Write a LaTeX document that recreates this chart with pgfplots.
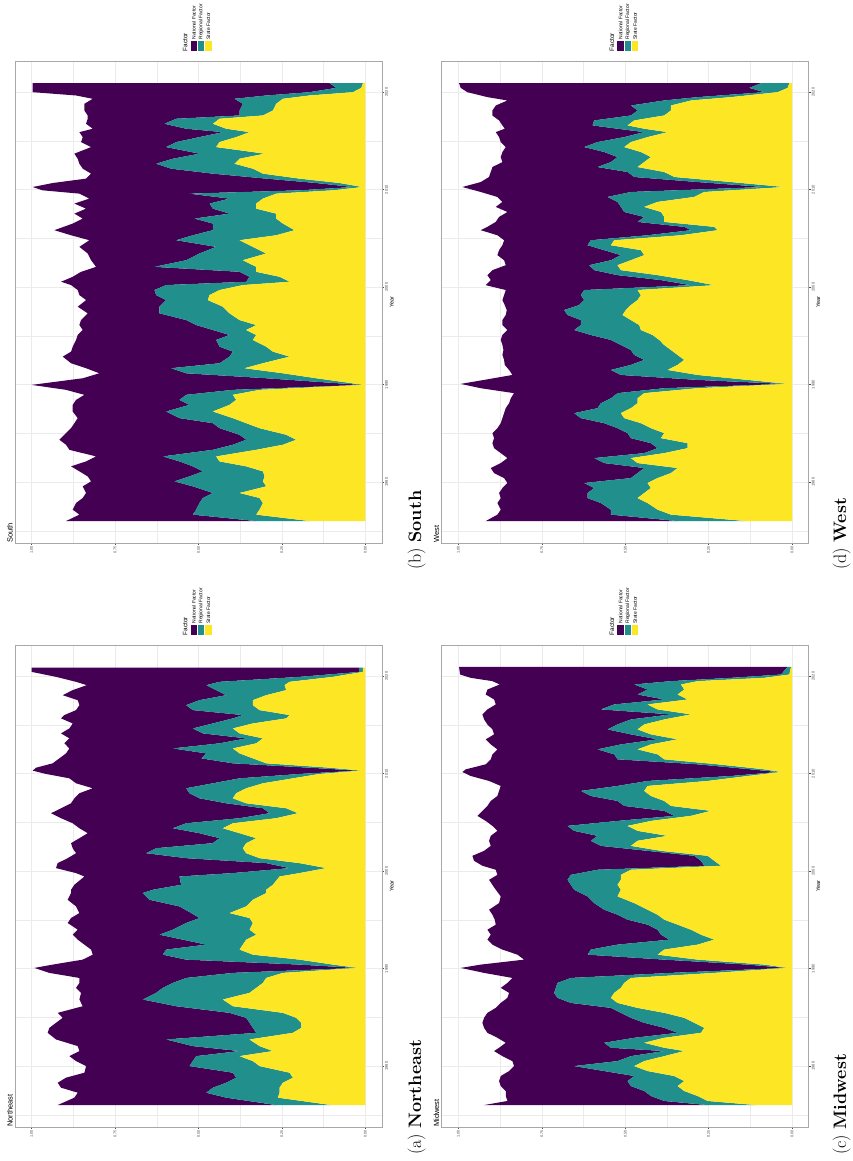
\documentclass[border=0pt]{standalone}
\usepackage{fontspec}
\usepackage{pgfplots}
\usepackage{pgfplotstable}
\pgfplotsset{compat=1.18}
\newfontfamily\sans{Liberation Sans}

\definecolor{natc}{HTML}{440154}
\definecolor{regc}{HTML}{21908C}
\definecolor{statec}{HTML}{FDE725}
\definecolor{tickc}{HTML}{4D4D4D}
\definecolor{gridc}{HTML}{EBEBEB}
\definecolor{framec}{HTML}{A8A8A8}

% shares of each factor (year, state, regional, national)
\pgfplotstableread{
year state regional national
2020.92 0.007 0.100 0.890
2020.44 0.012 0.075 0.910
2020.00 0.037 0.130 0.830
2019.66 0.167 0.130 0.570
2019.32 0.247 0.145 0.425
2018.81 0.267 0.100 0.475
2018.12 0.277 0.100 0.465
2017.61 0.307 0.070 0.455
2017.27 0.437 0.130 0.265
2016.76 0.457 0.145 0.235
2016.25 0.417 0.120 0.280
2015.90 0.347 0.080 0.430
2015.39 0.387 0.110 0.350
2014.88 0.437 0.130 0.285
2014.37 0.447 0.150 0.225
2013.69 0.302 0.195 0.375
2013.17 0.377 0.200 0.285
2012.66 0.392 0.235 0.230
2012.15 0.337 0.245 0.265
2011.64 0.307 0.150 0.365
2011.13 0.197 0.100 0.540
2010.68 0.077 0.070 0.790
2010.27 0.009 0.028 0.960
2009.93 0.097 0.100 0.770
2009.59 0.267 0.260 0.330
2009.08 0.307 0.100 0.420
2008.57 0.327 0.140 0.405
2008.05 0.327 0.130 0.380
2007.54 0.267 0.140 0.465
2007.03 0.267 0.245 0.335
2006.52 0.247 0.210 0.420
2005.84 0.212 0.245 0.475
2005.32 0.267 0.250 0.365
2004.81 0.377 0.190 0.260
2004.13 0.337 0.110 0.410
2003.45 0.297 0.200 0.335
2002.76 0.367 0.170 0.285
2002.08 0.327 0.305 0.175
2001.57 0.327 0.050 0.475
2001.06 0.257 0.090 0.530
2000.55 0.227 0.130 0.555
2000.21 0.367 0.230 0.285
1999.70 0.437 0.195 0.230
1999.18 0.467 0.160 0.230
1998.67 0.472 0.125 0.240
1997.99 0.427 0.190 0.245
1997.31 0.407 0.210 0.215
1996.62 0.377 0.160 0.315
1996.11 0.327 0.180 0.350
1995.60 0.357 0.100 0.390
1995.09 0.327 0.080 0.455
1994.58 0.337 0.110 0.420
1993.89 0.297 0.140 0.440
1993.38 0.277 0.120 0.485
1992.87 0.227 0.180 0.500
1992.19 0.307 0.130 0.445
1991.68 0.362 0.220 0.255
1991.16 0.247 0.290 0.260
1990.65 0.147 0.150 0.550
1989.97 0.005 0.007 0.988
1989.46 0.317 0.080 0.500
1988.95 0.397 0.140 0.305
1988.43 0.387 0.170 0.310
1987.92 0.407 0.120 0.350
1987.24 0.457 0.140 0.280
1986.56 0.397 0.160 0.305
1986.04 0.357 0.100 0.415
1985.53 0.317 0.120 0.445
1984.85 0.237 0.140 0.525
1984.34 0.207 0.150 0.560
1983.83 0.247 0.150 0.500
1983.31 0.327 0.130 0.430
1982.63 0.447 0.160 0.200
1982.12 0.437 0.120 0.280
1981.61 0.357 0.160 0.365
1981.10 0.307 0.180 0.370
1980.58 0.302 0.225 0.305
1980.07 0.307 0.265 0.250
1979.56 0.297 0.220 0.330
1978.88 0.377 0.080 0.380
1978.37 0.317 0.170 0.360
1977.85 0.307 0.190 0.370
1977.17 0.317 0.190 0.370
1976.66 0.327 0.190 0.340
1976.00 0.167 0.160 0.570
}\tabSouth

\pgfplotstableread{
year state regional national
2020.89 0.007 0.010 0.983
2020.44 0.007 0.010 0.983
2019.93 0.097 0.100 0.730
2019.42 0.227 0.210 0.430
2019.08 0.242 0.235 0.358
2018.57 0.237 0.210 0.430
2018.05 0.297 0.120 0.490
2017.54 0.337 0.160 0.365
2017.03 0.337 0.200 0.320
2016.52 0.317 0.200 0.350
2016.01 0.227 0.140 0.535
2015.67 0.237 0.160 0.515
2015.15 0.337 0.120 0.420
2014.64 0.397 0.120 0.370
2014.13 0.377 0.110 0.425
2013.62 0.307 0.050 0.530
2013.11 0.327 0.110 0.465
2012.59 0.397 0.180 0.310
2012.08 0.377 0.100 0.420
2011.57 0.337 0.155 0.425
2011.06 0.297 0.100 0.540
2010.61 0.107 0.060 0.820
2010.31 0.012 0.010 0.975
2009.97 0.137 0.060 0.760
2009.52 0.217 0.160 0.510
2009.01 0.307 0.150 0.410
2008.50 0.357 0.180 0.280
2007.99 0.387 0.140 0.330
2007.47 0.397 0.100 0.375
2006.96 0.357 0.060 0.465
2006.45 0.237 0.070 0.605
2005.94 0.202 0.085 0.655
2005.43 0.267 0.110 0.535
2004.91 0.397 0.140 0.340
2004.40 0.427 0.150 0.280
2003.89 0.377 0.120 0.335
2003.38 0.327 0.110 0.420
2002.87 0.357 0.100 0.425
2002.35 0.367 0.260 0.250
2001.84 0.357 0.300 0.210
2001.33 0.317 0.220 0.355
2000.82 0.197 0.100 0.625
2000.31 0.117 0.110 0.700
1999.80 0.197 0.200 0.470
1999.45 0.257 0.300 0.285
1998.60 0.277 0.275 0.320
1998.09 0.297 0.340 0.245
1997.75 0.297 0.370 0.215
1997.06 0.337 0.310 0.245
1996.38 0.357 0.200 0.310
1995.70 0.407 0.115 0.335
1995.19 0.347 0.150 0.385
1994.68 0.337 0.200 0.355
1993.99 0.347 0.230 0.285
1993.48 0.327 0.290 0.260
1992.97 0.357 0.190 0.315
1992.46 0.367 0.110 0.365
1991.95 0.377 0.220 0.225
1991.43 0.337 0.270 0.210
1990.92 0.197 0.340 0.310
1990.41 0.097 0.100 0.740
1990.07 0.022 0.005 0.965
1989.56 0.247 0.150 0.550
1989.04 0.297 0.240 0.320
1988.53 0.307 0.270 0.280
1988.02 0.327 0.280 0.260
1987.51 0.347 0.280 0.225
1986.83 0.427 0.240 0.190
1986.14 0.397 0.170 0.280
1985.46 0.247 0.160 0.515
1984.95 0.207 0.150 0.550
1984.44 0.192 0.155 0.580
1983.92 0.192 0.145 0.610
1983.41 0.217 0.110 0.625
1982.73 0.347 0.250 0.330
1982.05 0.317 0.200 0.345
1981.54 0.277 0.100 0.480
1981.02 0.377 0.130 0.380
1980.51 0.337 0.180 0.350
1980.00 0.317 0.210 0.310
1979.32 0.227 0.170 0.445
1978.81 0.217 0.170 0.510
1978.29 0.247 0.170 0.505
1977.78 0.257 0.200 0.455
1977.27 0.257 0.220 0.385
1976.76 0.262 0.155 0.455
1976.00 0.102 0.165 0.655
}\tabNE

\pgfplotstableread{
year state regional national
2020.92 0.008 0.085 0.905
2020.44 0.013 0.115 0.865
2020.00 0.043 0.040 0.890
2019.49 0.183 0.100 0.630
2019.15 0.303 0.080 0.470
2018.63 0.363 0.120 0.405
2018.12 0.363 0.100 0.435
2017.61 0.383 0.100 0.415
2017.10 0.473 0.120 0.285
2016.59 0.493 0.105 0.270
2016.25 0.443 0.080 0.338
2015.90 0.373 0.070 0.445
2015.39 0.433 0.070 0.375
2014.88 0.483 0.100 0.290
2014.37 0.503 0.120 0.235
2013.86 0.453 0.110 0.305
2013.34 0.423 0.100 0.350
2012.83 0.443 0.100 0.325
2012.32 0.463 0.120 0.315
2011.81 0.383 0.110 0.410
2011.30 0.353 0.120 0.435
2010.78 0.183 0.100 0.650
2010.27 0.023 0.060 0.905
2009.76 0.263 0.220 0.450
2009.25 0.293 0.260 0.330
2008.74 0.403 0.120 0.345
2008.23 0.443 0.070 0.375
2007.71 0.393 0.110 0.350
2007.20 0.383 0.060 0.435
2006.69 0.383 0.080 0.425
2006.18 0.233 0.090 0.590
2005.84 0.223 0.080 0.630
2005.32 0.333 0.100 0.450
2004.81 0.533 0.070 0.260
2004.30 0.543 0.070 0.255
2003.79 0.453 0.110 0.315
2003.28 0.443 0.070 0.370
2002.76 0.483 0.060 0.320
2002.25 0.523 0.085 0.250
2001.74 0.513 0.080 0.305
2001.23 0.403 0.120 0.390
2000.72 0.313 0.080 0.510
2000.20 0.233 0.070 0.615
1999.70 0.463 0.160 0.235
1999.18 0.453 0.180 0.230
1998.67 0.463 0.160 0.245
1998.16 0.483 0.155 0.223
1997.65 0.498 0.185 0.172
1997.14 0.508 0.165 0.185
1996.62 0.483 0.150 0.235
1996.11 0.458 0.175 0.235
1995.60 0.453 0.200 0.200
1995.09 0.418 0.185 0.265
1994.58 0.398 0.145 0.330
1994.06 0.383 0.130 0.355
1993.55 0.363 0.120 0.382
1993.04 0.343 0.130 0.395
1992.53 0.323 0.120 0.420
1992.02 0.343 0.140 0.378
1991.50 0.373 0.170 0.305
1990.99 0.283 0.230 0.325
1990.48 0.133 0.150 0.640
1990.07 0.013 0.010 0.970
1989.63 0.283 0.100 0.550
1989.12 0.443 0.080 0.310
1988.60 0.463 0.080 0.300
1988.09 0.463 0.110 0.275
1987.58 0.483 0.100 0.275
1987.07 0.513 0.140 0.210
1986.56 0.503 0.130 0.235
1986.04 0.453 0.110 0.310
1985.53 0.423 0.100 0.360
1985.02 0.383 0.110 0.405
1984.51 0.393 0.090 0.410
1983.99 0.313 0.110 0.475
1983.48 0.313 0.090 0.490
1982.97 0.383 0.060 0.430
1982.46 0.483 0.110 0.260
1981.95 0.463 0.100 0.310
1981.44 0.343 0.100 0.460
1980.92 0.363 0.100 0.430
1980.41 0.403 0.080 0.380
1979.90 0.433 0.190 0.230
1979.39 0.423 0.170 0.275
1978.88 0.443 0.170 0.265
1978.36 0.463 0.150 0.260
1977.85 0.433 0.140 0.310
1977.17 0.403 0.140 0.330
1976.66 0.363 0.180 0.340
1976.00 0.138 0.205 0.575
}\tabWest

\pgfplotstableread{
year state regional national
2020.96 0.003 0.010 0.985
2020.17 0.008 0.025 0.962
2019.83 0.083 0.100 0.780
2019.49 0.283 0.080 0.535
2019.15 0.333 0.140 0.403
2018.63 0.323 0.110 0.480
2018.12 0.343 0.120 0.455
2017.61 0.313 0.070 0.510
2017.10 0.433 0.100 0.355
2016.59 0.403 0.170 0.340
2016.08 0.303 0.060 0.565
2015.56 0.383 0.100 0.440
2015.05 0.443 0.080 0.390
2014.54 0.463 0.090 0.345
2014.03 0.423 0.060 0.410
2013.52 0.343 0.060 0.515
2013.00 0.423 0.090 0.390
2012.49 0.463 0.120 0.300
2011.98 0.403 0.130 0.365
2011.47 0.383 0.140 0.380
2010.96 0.223 0.060 0.635
2010.44 0.083 0.040 0.855
2010.17 0.033 0.010 0.945
2009.76 0.133 0.050 0.780
2009.25 0.253 0.180 0.475
2008.74 0.433 0.090 0.350
2008.23 0.443 0.190 0.245
2007.71 0.423 0.180 0.280
2007.20 0.383 0.140 0.380
2006.69 0.363 0.140 0.410
2006.18 0.243 0.140 0.545
2005.67 0.303 0.050 0.590
2005.15 0.423 0.100 0.395
2004.64 0.493 0.180 0.225
2004.13 0.463 0.190 0.230
2003.62 0.373 0.210 0.320
2003.11 0.463 0.140 0.305
2002.59 0.483 0.090 0.330
2002.08 0.393 0.040 0.490
2001.57 0.253 0.040 0.665
2001.06 0.233 0.040 0.680
2000.55 0.213 0.050 0.665
2000.14 0.483 0.100 0.305
1999.62 0.513 0.150 0.220
1999.11 0.513 0.160 0.235
1998.60 0.523 0.140 0.235
1998.09 0.513 0.140 0.235
1997.41 0.523 0.090 0.260
1996.72 0.473 0.120 0.285
1996.04 0.433 0.130 0.345
1995.53 0.403 0.120 0.375
1995.02 0.383 0.110 0.398
1994.51 0.343 0.090 0.455
1993.99 0.303 0.100 0.510
1993.48 0.273 0.120 0.510
1992.97 0.233 0.135 0.545
1992.46 0.283 0.240 0.375
1991.95 0.383 0.220 0.265
1991.43 0.403 0.210 0.210
1990.92 0.283 0.100 0.420
1990.41 0.083 0.050 0.800
1990.07 0.013 0.005 0.975
1989.56 0.233 0.130 0.560
1989.04 0.483 0.180 0.175
1988.53 0.503 0.200 0.150
1988.02 0.513 0.195 0.165
1987.51 0.533 0.180 0.135
1987.00 0.543 0.160 0.150
1986.48 0.523 0.140 0.210
1985.97 0.463 0.080 0.345
1985.46 0.383 0.130 0.400
1984.95 0.323 0.160 0.440
1984.44 0.293 0.150 0.485
1983.92 0.263 0.120 0.540
1983.41 0.273 0.070 0.570
1982.90 0.383 0.090 0.410
1982.39 0.443 0.120 0.295
1981.88 0.383 0.160 0.335
1981.54 0.323 0.060 0.510
1981.02 0.383 0.100 0.385
1980.51 0.443 0.080 0.315
1980.00 0.473 0.180 0.180
1979.49 0.433 0.130 0.285
1978.98 0.353 0.120 0.400
1978.46 0.323 0.170 0.385
1977.95 0.343 0.140 0.390
1977.44 0.323 0.120 0.415
1976.93 0.283 0.140 0.435
1976.42 0.253 0.130 0.470
1976.00 0.108 0.145 0.670
}\tabMW

\pgfplotsset{
  panel/.style={
    scale only axis, width=367pt, height=482pt, anchor=south west,
    x dir=reverse, xmin=-0.05, xmax=1.05, ymin=1973.75, ymax=2023.2,
    stack plots=x,
    xtick={0,0.25,0.5,0.75,1}, xticklabels={0.00,0.25,0.50,0.75,1.00},
    minor xtick={0.125,0.375,0.625,0.875},
    ytick={1980,1990,2000,2010,2020}, yticklabels={1980,1990,2000,2010,2020},
    minor ytick={1975,1985,1995,2005,2015},
    xtick pos=left, ytick pos=right, yticklabel pos=right,
    tick align=outside, major tick length=2pt, minor tick length=0pt,
    grid=both,
    major grid style={gridc, line width=0.5pt},
    minor grid style={gridc, line width=0.25pt},
    axis line style={framec, line width=0.6pt},
    tick style={tickc, line width=0.4pt},
    xticklabel style={rotate=90, anchor=east, inner sep=1pt,
      font=\sans\fontsize{3.8}{4}\selectfont, text=tickc},
    yticklabel style={rotate=90, anchor=north, inner sep=1pt,
      font=\sans\fontsize{4}{4.5}\selectfont, text=tickc},
    ylabel={Year},
    ylabel style={font=\sans\fontsize{5.5}{6}\selectfont, inner sep=0.5pt},
  }
}

% one stacked panel: zero baseline, then State, Regional, National
\newcommand\stackpanel[1]{%
  \addplot[draw=none, forget plot] table[x expr=0, y=year] {#1};
  \addplot[draw=none, fill=statec] table[x=state, y=year] {#1} \closedcycle;
  \addplot[draw=none, fill=regc] table[x=regional, y=year] {#1} \closedcycle;
  \addplot[draw=none, fill=natc] table[x=national, y=year] {#1} \closedcycle;
}

\newcommand\factorlegend[2]{%
  \begin{scope}[shift={(#1pt,#2pt)}]
    \fill[natc] (0pt,0pt) rectangle (6.2pt,10pt);
    \fill[regc] (7.3pt,0pt) rectangle (13.5pt,10pt);
    \fill[statec] (14.6pt,0pt) rectangle (20.8pt,10pt);
    \node[rotate=90, anchor=west, inner sep=0pt, font=\sans\fontsize{6.4}{7}\selectfont] at (-5.5pt,0pt) {Factor};
    \node[rotate=90, anchor=west, inner sep=0pt, font=\sans\fontsize{5}{6}\selectfont] at (3.1pt,11.7pt) {National Factor};
    \node[rotate=90, anchor=west, inner sep=0pt, font=\sans\fontsize{5}{6}\selectfont] at (10.4pt,11.7pt) {Regional Factor};
    \node[rotate=90, anchor=west, inner sep=0pt, font=\sans\fontsize{5}{6}\selectfont] at (17.7pt,11.7pt) {State Factor};
  \end{scope}}

\begin{document}
\begin{tikzpicture}
\useasboundingbox (0pt,0pt) rectangle (853pt,1161pt);

% (b) South
\begin{axis}[panel, at={(15pt,618pt)}]
  \stackpanel{\tabSouth}
\end{axis}

% (a) Northeast
\begin{axis}[panel, at={(15pt,34pt)}]
  \stackpanel{\tabNE}
\end{axis}

% (d) West
\begin{axis}[panel, at={(441.7pt,618pt)}]
  \stackpanel{\tabWest}
\end{axis}

% (c) Midwest
\begin{axis}[panel, at={(441.7pt,34pt)}]
  \stackpanel{\tabMW}
\end{axis}

% legends
\factorlegend{190.7}{1109.5}
\factorlegend{190.7}{525.5}
\factorlegend{617.4}{1109.5}
\factorlegend{617.4}{525.5}

% panel titles
\begin{scope}[every node/.style={rotate=90, anchor=south west, inner sep=0pt, font=\sans\fontsize{7.5}{8}\selectfont}]
  \node at (13pt,618pt) {South};
  \node at (13pt,34pt) {Northeast};
  \node at (439.5pt,618pt) {West};
  \node at (439.5pt,34pt) {Midwest};
\end{scope}

% sub-captions
\begin{scope}[every node/.style={rotate=90, anchor=base west, inner sep=0pt, font=\fontsize{18}{20}\selectfont}]
  \node at (421pt,591pt) {(b) \textbf{South}};
  \node at (421pt,6pt) {(a) \textbf{Northeast}};
  \node at (846pt,591pt) {(d) \textbf{West}};
  \node at (846pt,6pt) {(c) \textbf{Midwest}};
\end{scope}
\end{tikzpicture}
\end{document}
